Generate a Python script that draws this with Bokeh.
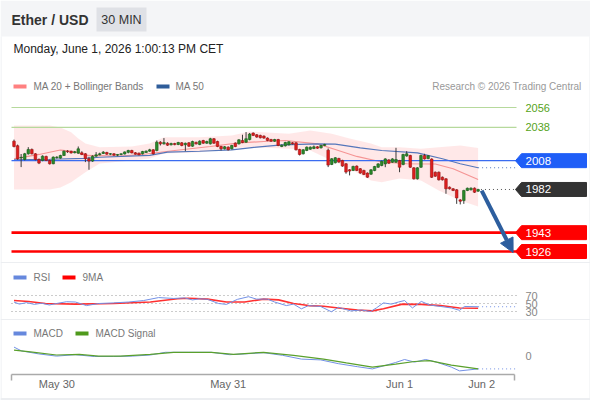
from bokeh.plotting import figure
from bokeh.models import Range1d, ColumnDataSource, Arrow, NormalHead
from bokeh.core.properties import value
from bokeh.embed import file_html
from bokeh.resources import INLINE

# ---------------- data ----------------
opens = [2025.6, 2021.5, 2010.5, 2009.1, 2014.2, 2018.1, 2014.2, 2009.1, 2008.2, 2011.8,
         2008.2, 2005.2, 2010.8, 2010.3, 2012.7, 2016.6, 2016.4, 2015.2, 2014.8, 2015.1,
         2014.2, 2009.7, 2007.6, 2012.1, 2013.3, 2014.5, 2015.4, 2013.9, 2014.2, 2013.0,
         2013.6, 2014.0, 2015.5, 2017.2, 2015.1, 2014.8, 2014.2, 2015.4, 2016.6, 2017.8,
         2017.2, 2024.7, 2023.2, 2023.8, 2022.3, 2023.5, 2022.6, 2024.1, 2022.4, 2024.1,
         2021.1, 2024.5, 2022.6, 2026.2, 2023.8, 2023.2, 2027.8, 2025.3, 2020.8, 2018.7,
         2020.2, 2018.7, 2023.8, 2023.2, 2026.2, 2024.7, 2027.0, 2032.9, 2031.4, 2030.8,
         2030.2, 2028.4, 2027.1, 2025.6, 2027.1, 2020.8, 2021.4, 2022.3, 2024.1, 2024.1,
         2018.1, 2014.2, 2017.2, 2018.4, 2019.0, 2020.5, 2019.6, 2021.7, 2017.5, 2004.6,
         2006.1, 2010.0, 2008.2, 2005.2, 1999.8, 1999.2, 2003.1, 2000.7, 1999.2, 1996.8,
         1995.8, 1999.1, 2002.1, 2003.6, 2005.1, 2008.7, 2006.6, 2006.6, 2008.1, 2004.5,
         2012.2, 2012.7, 2001.5, 1991.6, 2002.1, 2012.7, 2009.9, 2009.5, 1997.6, 1997.6,
         1993.1, 1991.6, 1984.1, 1982.6, 1981.7, 1972.6, 1972.0, 1981.1, 1981.7, 1983.2,
         1980.5]
highs = [2027.0, 2022.5, 2014.0, 2015.0, 2020.2, 2019.0, 2014.8, 2010.0, 2012.8, 2012.5,
         2009.0, 2011.8, 2012.0, 2013.3, 2017.2, 2017.5, 2017.0, 2016.8, 2020.8, 2016.5,
         2014.8, 2011.5, 2012.8, 2015.7, 2015.2, 2016.6, 2016.0, 2014.8, 2014.8, 2013.9,
         2014.5, 2016.3, 2017.8, 2017.8, 2015.8, 2015.3, 2016.8, 2017.2, 2018.7, 2018.4,
         2026.2, 2025.6, 2028.4, 2024.6, 2024.2, 2024.1, 2025.0, 2024.8, 2024.3, 2024.8,
         2026.0, 2025.2, 2026.3, 2026.8, 2026.0, 2028.6, 2028.4, 2026.0, 2021.4, 2021.2,
         2020.9, 2022.3, 2024.5, 2027.4, 2031.4, 2033.8, 2033.0, 2033.5, 2032.0, 2031.4,
         2030.8, 2029.0, 2027.7, 2027.7, 2027.7, 2022.6, 2025.0, 2025.6, 2024.7, 2024.7,
         2018.7, 2018.4, 2020.8, 2020.8, 2021.7, 2021.1, 2022.3, 2023.2, 2019.0, 2010.3,
         2011.2, 2010.6, 2008.8, 2005.8, 2000.4, 2003.4, 2003.7, 2001.3, 1999.8, 1997.4,
         2000.3, 2003.3, 2005.7, 2008.1, 2010.2, 2009.3, 2010.2, 2019.6, 2008.7, 2014.2,
         2016.6, 2013.3, 2002.1, 2002.1, 2013.3, 2014.2, 2013.0, 2010.1, 1998.2, 1998.2,
         1993.7, 1992.2, 1984.7, 1983.2, 1982.3, 1973.2, 1981.7, 1983.7, 1983.8, 1983.8,
         1982.6]
lows = [2020.0, 2008.8, 2002.2, 2008.2, 2013.5, 2013.6, 2008.2, 2004.9, 2007.5, 2007.6,
        2004.5, 2004.8, 2009.8, 2009.8, 2012.2, 2015.0, 2014.4, 2014.6, 2014.2, 2013.0,
        2006.7, 1999.8, 2007.0, 2011.5, 2012.8, 2014.0, 2013.3, 2013.0, 2012.4, 2012.1,
        2012.9, 2013.6, 2014.6, 2014.6, 2013.4, 2012.8, 2013.6, 2015.0, 2016.0, 2013.5,
        2016.5, 2021.7, 2022.5, 2021.4, 2021.8, 2021.9, 2022.0, 2021.0, 2016.6, 2020.4,
        2020.6, 2022.6, 2022.0, 2023.2, 2023.2, 2022.6, 2023.2, 2020.2, 2017.2, 2018.1,
        2017.2, 2018.1, 2020.2, 2022.6, 2023.8, 2024.1, 2026.4, 2030.2, 2028.7, 2028.1,
        2027.8, 2025.6, 2025.0, 2025.0, 2021.1, 2020.2, 2020.8, 2021.7, 2022.6, 2017.2,
        2012.7, 2013.6, 2016.6, 2017.8, 2018.4, 2018.7, 2019.0, 2021.1, 2002.2, 2004.0,
        2005.5, 2006.1, 2002.5, 1996.2, 1994.7, 1998.6, 1998.6, 1996.2, 1995.0, 1992.5,
        1995.2, 1998.5, 2001.5, 2003.0, 2002.1, 2005.1, 2006.0, 2006.0, 1997.6, 2003.9,
        2011.6, 2001.5, 1991.0, 1991.0, 2001.5, 2009.0, 2009.3, 1992.4, 1993.4, 1990.1,
        1990.1, 1978.1, 1982.0, 1980.5, 1969.0, 1968.5, 1969.0, 1980.5, 1981.1, 1978.9,
        1979.9]
closes = [2020.8, 2009.7, 2011.0, 2014.2, 2018.1, 2014.2, 2009.1, 2005.8, 2012.1, 2008.2,
          2005.2, 2011.2, 2011.2, 2012.7, 2016.6, 2016.1, 2015.0, 2016.0, 2018.7, 2013.6,
          2009.7, 2007.6, 2012.1, 2013.3, 2014.2, 2015.7, 2013.9, 2014.3, 2013.0, 2013.6,
          2014.2, 2015.9, 2017.2, 2015.0, 2013.9, 2013.3, 2016.3, 2016.6, 2017.8, 2014.2,
          2024.7, 2023.2, 2024.3, 2022.0, 2023.5, 2022.5, 2024.4, 2021.7, 2023.7, 2021.1,
          2025.3, 2023.2, 2025.6, 2023.8, 2025.3, 2027.8, 2023.8, 2020.8, 2018.7, 2020.5,
          2017.8, 2021.7, 2020.8, 2026.8, 2024.4, 2027.8, 2032.0, 2030.8, 2029.3, 2028.7,
          2028.4, 2026.2, 2025.6, 2027.1, 2021.7, 2022.0, 2024.4, 2025.0, 2023.2, 2017.8,
          2013.6, 2017.8, 2020.2, 2020.2, 2020.5, 2019.3, 2021.7, 2022.6, 2004.0, 2009.7,
          2010.6, 2006.7, 2003.1, 1997.7, 1998.6, 2002.8, 1999.2, 1996.8, 1995.6, 1993.1,
          1999.7, 2002.7, 2005.1, 2007.5, 2009.6, 2005.7, 2009.6, 2009.0, 2002.1, 2013.6,
          2014.2, 2002.1, 1991.6, 2001.5, 2012.7, 2009.6, 2012.4, 1993.0, 1994.0, 1990.7,
          1990.7, 1982.6, 1982.6, 1981.1, 1974.4, 1971.4, 1981.1, 1983.1, 1983.2, 1979.5,
          1982.0]

band_idx = [0, 10, 13, 16, 18, 20, 24, 33, 38, 42, 52, 61, 66, 77, 83, 89, 94, 100,
            103, 108, 114, 119, 125, 130]
band_upper = [2039.7, 2039.7, 2038.0, 2033.7, 2028.0, 2023.5, 2020.2, 2020.8, 2023.5,
              2029.2, 2029.2, 2030.7, 2034.3, 2032.3, 2035.2, 2032.3, 2028.0, 2023.5,
              2020.2, 2020.2, 2018.7, 2020.2, 2021.7, 2019.4]
band_lower = [1982.0, 1982.0, 1983.8, 1988.6, 1993.1, 1997.6, 2005.4, 2008.2, 2010.0,
              2014.5, 2015.7, 2019.0, 2020.2, 2018.7, 2017.2, 2008.2, 2000.9, 1990.1,
              1988.6, 1991.9, 1990.1, 1981.1, 1972.0, 1966.6]

ma20_idx = [0, 7, 13, 17, 20, 30, 37, 45, 55, 63, 70, 76, 85, 90, 96, 103, 110, 118, 123, 130]
ma20 = [2009.7, 2013.6, 2017.6, 2016.3, 2012.7, 2012.2, 2014.0, 2017.2, 2020.8, 2024.0,
        2025.3, 2026.2, 2023.2, 2018.1, 2011.8, 2006.8, 2005.2, 2005.0, 2000.7, 1991.0]

ma50_idx = [0, 10, 20, 24, 38, 43, 52, 61, 66, 75, 85, 90, 97, 103, 113, 120, 125, 130]
ma50 = [2008.8, 2009.3, 2010.0, 2011.1, 2012.7, 2015.7, 2016.5, 2017.8, 2019.6, 2022.3,
        2023.2, 2023.0, 2019.6, 2017.2, 2015.1, 2009.7, 2005.2, 2001.6]

rsi_idx = [0, 1.5, 3.5, 5.7, 7.7, 9.9, 11.9, 14.7, 17.2, 20.3, 23.7, 27.9, 32.1, 36.3,
           40.5, 44.7, 47.8, 50, 52, 54.2, 57.3, 59.5, 62.6, 65.7, 67.9, 71, 73, 76.3,
           78.3, 80.5, 82.5, 85.9, 88.9, 90.9, 94.3, 97.3, 99.9, 101.5, 103.5, 105.7,
           107.7, 109.4, 111.6, 114.1, 116.4, 119.5, 122.5, 124.8, 126.2, 130]
rsi = [53.7, 48.5, 52.2, 47.8, 50.7, 46.3, 50.0, 54.4, 53.7, 44.8, 50.0, 51.5, 53.7, 57.4,
       64.8, 62.6, 64.0, 58.9, 61.8, 60.4, 50.0, 47.8, 60.4, 67.0, 61.0, 61.0, 53.7, 44.8,
       48.5, 36.7, 44.8, 42.6, 29.3, 40.4, 31.5, 33.7, 30.0, 38.9, 51.5, 48.5, 53.7, 57.4,
       38.9, 55.2, 46.3, 42.6, 38.9, 33.0, 42.6, 41.9]
rsi_ma_idx = [0, 4.1, 8.8, 17.2, 27.9, 38.2, 45.8, 48.9, 54.2, 59.5, 64.6, 69.9, 74.1, 78.3,
              82.5, 86.7, 90.9, 96.2, 100.4, 103.5, 108.8, 114.1, 119.5, 124.8, 130]
rsi_ma = [57.4, 55.0, 50.0, 48.5, 50.0, 53.7, 61.8, 63.3, 61.0, 53.7, 53.7, 61.0, 59.0, 50.0,
          44.8, 43.3, 38.9, 33.7, 31.5, 36.7, 48.5, 47.8, 44.8, 38.9, 38.1]

macd_idx = [0, 2.1, 6.9, 11.9, 17.2, 22.5, 27.9, 33.2, 38.2, 42.4, 48.9, 55.3, 60.4, 64.6,
            69.9, 75.2, 80.5, 85.9, 90.9, 96.2, 100.4, 103.5, 106.9, 109.4, 112.2, 115.3,
            118.3, 122.5, 124.8, 130]
macd = [4.7, 2.8, 1.3, 0.2, 0.9, 0.0, 0.0, 0.2, 0.75, 2.1, 2.1, 2.1, 0.9, 1.3, 1.9, 0.6,
        -1.3, -1.7, -3.6, -5.1, -6.2, -4.7, -3.0, -1.5, -2.8, -1.5, -2.8, -5.3, -7.2, -6.2]
sig_idx = [0, 4.6, 11.9, 18.3, 23.7, 29.8, 38.2, 44.7, 55.3, 61.5, 69.9, 78.3, 86.7, 93.1,
           100.4, 106.9, 112.2, 116.4, 122.5, 130]
signal = [3.2, 2.3, 0.75, 1.1, 0.2, 0.2, 1.1, 2.1, 2.1, 1.1, 2.1, 0.6, -1.3, -3.2, -5.3,
          -3.8, -2.5, -2.1, -4.3, -6.2]

resistances = [2056, 2038]
pivot = 2008
last_price = 1982
supports = [1943, 1926]
target = 1926

date_labels = ["May 30", "May 31", "Jun 1", "Jun 2"]
date_idx = [12, 60, 108, 131]
rsi_levels = [70, 50, 30]

# ---------------- layout constants ----------------
W, H = 590, 400
X0, DX = 13.5, 3.57               # px of first candle, px per candle
PPP = 130.0 / 144.0               # price units per pixel
P_TOP = 2056 + 107 * PPP
P_BOT = 1926 - (H - 251) * PPP
MACD_ZERO_PX = 356
FONT = value("Liberation Sans")

p = figure(width=W, height=H, output_backend="svg", toolbar_location=None,
           x_range=Range1d(-X0 / DX, (W - X0) / DX), y_range=Range1d(P_BOT, P_TOP),
           min_border=0, x_axis_location=None, y_axis_location=None,
           background_fill_color="white", border_fill_color="white",
           outline_line_color=None)
p.grid.visible = False
p.extra_x_ranges = {"px": Range1d(0, W)}
p.extra_y_ranges = {"px": Range1d(H, 0),
                    "rsi": Range1d(50 - (H - 303) / 0.4, 50 + 303 / 0.4),
                    "macd": Range1d(-(H - MACD_ZERO_PX) / 2.0, MACD_ZERO_PX / 2.0)}

def txt(x, y, t, size="11px", color="#333", align="left", bold=False,
        xr="px", yr="px"):
    p.text(x=[x], y=[y], text=[t], text_font=FONT, text_font_size=size,
           text_color=color, text_align=align, text_baseline="middle",
           text_font_style="bold" if bold else "normal",
           x_range_name=xr, y_range_name=yr)

def pxline(xs, ys, color, width=1, dash="solid", xr="px", yr="px"):
    p.line(x=xs, y=ys, line_color=color, line_width=width, line_dash=dash,
           x_range_name=xr, y_range_name=yr)

# ---- frame / header ----
p.quad(left=[0], right=[W], top=[0], bottom=[36], fill_color="#f4f5f7",
       line_color=None, x_range_name="px", y_range_name="px")
p.quad(left=[96], right=[146], top=[7], bottom=[31], fill_color="#dfe1e6",
       line_color=None, x_range_name="px", y_range_name="px")
txt(11, 19, "Ether / USD", size="14px", color="#333", bold=True)
txt(121, 19, "30 MIN", size="12.5px", color="#333", align="center")
txt(13, 48, "Monday, June 1, 2026 1:00:13 PM CET", size="12px", color="#222")
for yy in (262, 319):
    pxline([0, W], [yy, yy], "#eceef1", 1)
pxline([0.5, 0.5], [36, H], "#eceef1", 1)
pxline([W - 0.5, W - 0.5], [36, H], "#eceef1", 1)
pxline([0, W], [H - 1.5, H - 1.5], "#eceef1", 2)

# ---- legend row ----
p.quad(left=[13], right=[26], top=[84], bottom=[88], fill_color="#ff8080",
       line_color=None, x_range_name="px", y_range_name="px")
txt(33, 86, "MA 20 + Bollinger Bands", size="10px", color="#777")
p.quad(left=[156], right=[169], top=[84], bottom=[88], fill_color="#2f5d9a",
       line_color=None, x_range_name="px", y_range_name="px")
txt(175, 86, "MA 50", size="10px", color="#777")
txt(581, 86, "Research \u00a9 2026 Trading Central", size="10px", color="#999",
    align="right")

# ---- bollinger band & MAs ----
p.varea(x=band_idx, y1=band_lower, y2=band_upper, fill_color="#ffe5e5", fill_alpha=0.9)
p.line(x=ma20_idx, y=ma20, line_color="#f59595", line_width=1.2)
p.line(x=ma50_idx, y=ma50, line_color="#5577bb", line_width=1.2)

# ---- level lines ----
for lv in resistances:
    p.segment(x0=[11], x1=[516], y0=[lv], y1=[lv], line_color="#b6d99c",
              line_width=1.2, x_range_name="px")
    txt(525, lv, str(lv), size="11px", color="#56a321", yr="default")
p.segment(x0=[11], x1=[516], y0=[pivot], y1=[pivot], line_color="#3b6cf0",
          line_width=1.4, x_range_name="px")
for lv in supports:
    p.segment(x0=[11], x1=[516], y0=[lv], y1=[lv], line_color="#ff0000",
              line_width=2.6, x_range_name="px")

# dotted continuations
n = len(closes)
last_i = n - 1
p.segment(x0=[last_i + 0.8], x1=[(516 - X0) / DX], y0=[last_price], y1=[last_price],
          line_color="#555", line_width=1, line_dash="1 3")
p.segment(x0=[ma50_idx[-1]], x1=[(516 - X0) / DX], y0=[ma50[-1]], y1=[ma50[-1]],
          line_color="#5577bb", line_width=1, line_dash="1 3")

# ---- candles ----
up = [c >= o for o, c in zip(opens, closes)]
idx = list(range(n))
src = ColumnDataSource(dict(
    x=idx, o=opens, h=highs, l=lows, c=closes,
    top=[max(o, c) for o, c in zip(opens, closes)],
    bot=[min(o, c) for o, c in zip(opens, closes)],
    fill=["#2a8a2a" if u else "#e01e1e" for u in up],
    edge=["#1d5e1d" if u else "#9c1212" for u in up]))
p.segment(x0="x", x1="x", y0="l", y1="h", source=src, line_color="#3a3a3a", line_width=1)
p.vbar(x="x", top="top", bottom="bot", width=0.72, source=src, fill_color="fill",
       line_color="edge", line_width=0.6)

# ---- price tags ----
hh = 7 * PPP
def tag(price, color, text_color="white"):
    xs = [515, 521, 586, 586, 521]
    ys = [price, price + hh, price + hh, price - hh, price - hh]
    p.patch(x=xs, y=ys, fill_color=color, line_color=color, x_range_name="px")
    txt(525, price, str(price), size="11.5px", color=text_color, yr="default")

tag(pivot, "#1f5ef7")
tag(last_price, "#333333")
for lv in supports:
    tag(lv, "#ff0000")

# ---- arrow to target ----
p.add_layout(Arrow(end=NormalHead(size=14, fill_color="#2d5e9e", line_color="#2d5e9e"),
                   x_start=last_i + 1.0, y_start=last_price - 1,
                   x_end=last_i + 9.8, y_end=target - 1.0,
                   line_color="#2d5e9e", line_width=4))

# ---- RSI panel ----
p.quad(left=[13], right=[26], top=[275], bottom=[279], fill_color="#6688dd",
       line_color=None, x_range_name="px", y_range_name="px")
txt(33, 277, "RSI", size="10px", color="#777")
p.quad(left=[62], right=[75], top=[275], bottom=[279], fill_color="#ff0000",
       line_color=None, x_range_name="px", y_range_name="px")
txt(82, 277, "9MA", size="10px", color="#777")
for lv in rsi_levels:
    p.segment(x0=[11], x1=[516], y0=[lv], y1=[lv], line_color="#999", line_width=1,
              line_dash="1 3", x_range_name="px", y_range_name="rsi")
    txt(525, lv, str(lv), size="11px", color="#888", yr="rsi")
p.line(x=rsi_ma_idx, y=rsi_ma, line_color="#ff3030", line_width=1.6, y_range_name="rsi")
p.line(x=rsi_idx, y=rsi, line_color="#7391e6", line_width=1, y_range_name="rsi")
p.segment(x0=[rsi_idx[-1]], x1=[(515 - X0) / DX], y0=[rsi[-1]], y1=[rsi[-1]],
          line_color="#7391e6", line_width=1, line_dash="1 3", y_range_name="rsi")

# ---- MACD panel ----
p.quad(left=[13], right=[26], top=[331], bottom=[335], fill_color="#6688dd",
       line_color=None, x_range_name="px", y_range_name="px")
txt(33, 333, "MACD", size="10px", color="#777")
p.quad(left=[75], right=[88], top=[331], bottom=[335], fill_color="#4f9a1c",
       line_color=None, x_range_name="px", y_range_name="px")
txt(95, 333, "MACD Signal", size="10px", color="#777")
txt(525, 0.5, "0", size="11px", color="#888", yr="macd")
p.line(x=macd_idx, y=macd, line_color="#7391e6", line_width=1, y_range_name="macd")
p.line(x=sig_idx, y=signal, line_color="#5aa02c", line_width=1.2, y_range_name="macd")
p.segment(x0=[macd_idx[-1]], x1=[(515 - X0) / DX], y0=[macd[-1]], y1=[macd[-1]],
          line_color="#7391e6", line_width=1, line_dash="1 3", y_range_name="macd")

# ---- x axis ----
pxline([11, 514], [374, 374], "#aaa", 1.5)
pxline([11, 11], [374, 380], "#aaa", 1.5)
pxline([514, 514], [374, 380], "#aaa", 1.5)
p.text(x=date_idx, y=[383] * len(date_idx), text=date_labels, text_font=FONT,
       text_font_size="11px", text_color="#666", text_align="center",
       text_baseline="middle", y_range_name="px")

open("out.html", "w").write(file_html(p, INLINE))
